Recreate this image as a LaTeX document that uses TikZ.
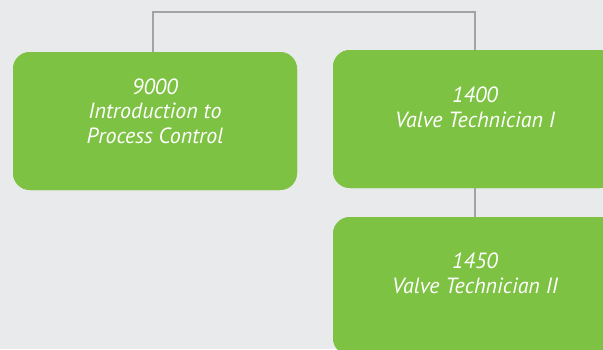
\documentclass[tikz,border=0pt]{standalone}
\usepackage{fontspec}
\setmainfont{PT Sans}
\definecolor{bg}{HTML}{E9EAEC}
\definecolor{boxgreen}{HTML}{7DC243}
\definecolor{linegray}{HTML}{A3A3A5}
\begin{document}
\begin{tikzpicture}[x=1pt,y=-1pt,
  box/.style={fill=boxgreen, draw=none, rounded corners=17pt, minimum width=284pt, minimum height=138pt, inner sep=0pt},
  label/.style={text=white, font=\fontsize{22}{24.5}\selectfont\itshape, align=center, anchor=base, inner sep=0pt},
  conn/.style={draw=linegray, line width=2pt}]
\useasboundingbox[fill=bg] (0,0) rectangle (603,349);
\coordinate (t1) at (153,12);
\coordinate (t2) at (475,12);
\node[box] (b1) at (155,121) {};
\node[box] (b2) at (475,119) {};
\node[box] (b3) at (475,286) {};
\draw[conn] (b1.north -| t1) -- (t1) -- (t2) -- (b2.north);
\draw[conn] (b2.south) -- (b3.north);
\node[box] at (b1) {};
\node[box] at (b2) {};
\node[box] at (b3) {};
\node[label] (l1) at (155,143) {9000\\Introduction to\\Process Control};
\node[label] (l2) at (475,127) {1400\\Valve Technician I};
\node[label] (l3) at (475,293) {1450\\Valve Technician II};
\end{tikzpicture}
\end{document}
